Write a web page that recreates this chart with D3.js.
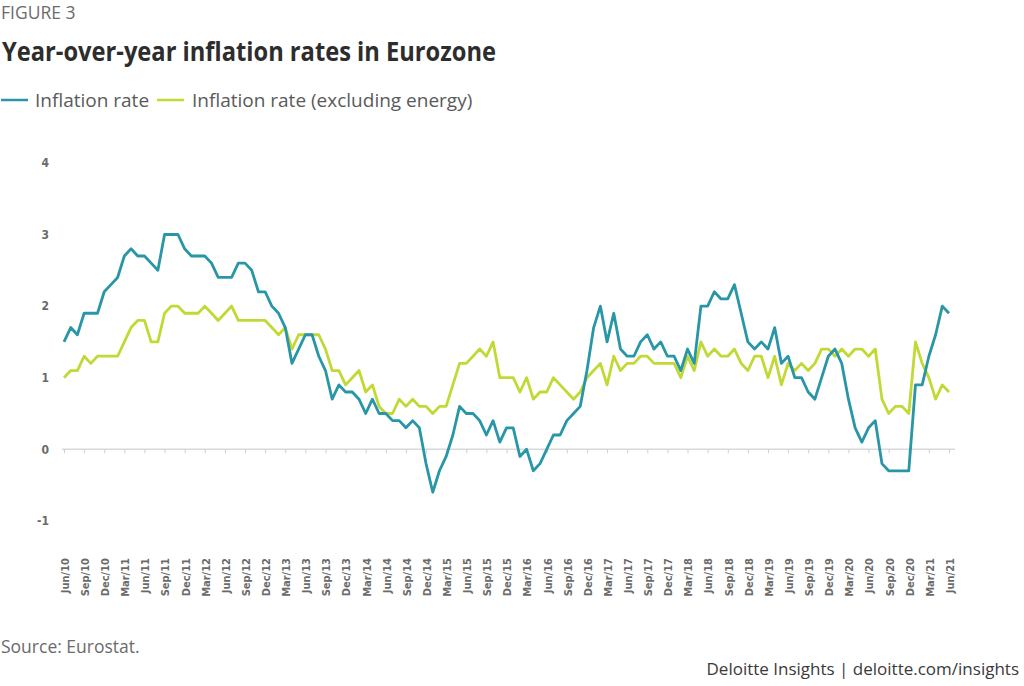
<!DOCTYPE html>
<html>
<head>
<meta charset="utf-8">
<script src="https://cdn.jsdelivr.net/npm/d3@7"></script>
<style>
  html, body { margin: 0; padding: 0; background: #fff; }
  svg { display: block; }
</style>
</head>
<body>
<svg id="chart" width="1024" height="686"></svg>
<script>
// ---- data ----
const monthNames = ["Jan","Feb","Mar","Apr","May","Jun","Jul","Aug","Sep","Oct","Nov","Dec"];
const months = [];
for (let i = 0; i < 133; i++) {
  const m = (5 + i) % 12;
  const y = 10 + Math.floor((5 + i) / 12);
  months.push(monthNames[m] + "/" + y);
}
const inflation = [
  1.5,1.7,1.6,1.9,1.9,1.9,2.2,
  2.3,2.4,2.7,2.8,2.7,2.7,2.6,2.5,3.0,3.0,3.0,2.8,
  2.7,2.7,2.7,2.6,2.4,2.4,2.4,2.6,2.6,2.5,2.2,2.2,
  2.0,1.9,1.7,1.2,1.4,1.6,1.6,1.3,1.1,0.7,0.9,0.8,
  0.8,0.7,0.5,0.7,0.5,0.5,0.4,0.4,0.3,0.4,0.3,-0.2,
  -0.6,-0.3,-0.1,0.2,0.6,0.5,0.5,0.4,0.2,0.4,0.1,0.3,
  0.3,-0.1,0.0,-0.3,-0.2,0.0,0.2,0.2,0.4,0.5,0.6,1.1,
  1.7,2.0,1.5,1.9,1.4,1.3,1.3,1.5,1.6,1.4,1.5,1.3,
  1.3,1.1,1.4,1.2,2.0,2.0,2.2,2.1,2.1,2.3,1.9,1.5,
  1.4,1.5,1.4,1.7,1.2,1.3,1.0,1.0,0.8,0.7,1.0,1.3,
  1.4,1.2,0.7,0.3,0.1,0.3,0.4,-0.2,-0.3,-0.3,-0.3,-0.3,
  0.9,0.9,1.3,1.6,2.0,1.9
];
const exEnergy = [
  1.0,1.1,1.1,1.3,1.2,1.3,1.3,
  1.3,1.3,1.5,1.7,1.8,1.8,1.5,1.5,1.9,2.0,2.0,1.9,
  1.9,1.9,2.0,1.9,1.8,1.9,2.0,1.8,1.8,1.8,1.8,1.8,
  1.7,1.6,1.7,1.4,1.6,1.6,1.6,1.6,1.4,1.1,1.1,0.9,
  1.0,1.1,0.8,0.9,0.6,0.5,0.5,0.7,0.6,0.7,0.6,0.6,
  0.5,0.6,0.6,0.9,1.2,1.2,1.3,1.4,1.3,1.5,1.0,1.0,
  1.0,0.8,1.0,0.7,0.8,0.8,1.0,0.9,0.8,0.7,0.8,1.0,
  1.1,1.2,0.9,1.3,1.1,1.2,1.2,1.3,1.3,1.2,1.2,1.2,
  1.2,1.0,1.3,1.1,1.5,1.3,1.4,1.3,1.3,1.4,1.2,1.1,
  1.3,1.3,1.0,1.3,0.9,1.2,1.1,1.2,1.1,1.2,1.4,1.4,
  1.3,1.4,1.3,1.4,1.4,1.3,1.4,0.7,0.5,0.6,0.6,0.5,
  1.5,1.2,1.0,0.7,0.9,0.8
];
const yTicks = [-1, 0, 1, 2, 3, 4];
const tickLabels = months.filter((d, i) => i % 3 === 0);
const seriesNames = ["Inflation rate", "Inflation rate (excluding energy)"];
const colors = ["#2896a6", "#c2d935"];

// ---- drawing ----
const svg = d3.select("#chart");
const x = d3.scalePoint().domain(months).range([64, 949]);
const y = d3.scaleLinear().domain([-1, 4]).range([520.9, 162.9]);

const condensed = "'Liberation Sans Narrow','DejaVu Sans Condensed','Open Sans',sans-serif";

// header
svg.append("text").attr("x", 1).attr("y", 19)
  .attr("font-family", "'Open Sans',sans-serif").attr("font-size", 17.5)
  .attr("fill", "#6b6b6b").text("FIGURE 3");
svg.append("text").attr("x", 2).attr("y", 61)
  .attr("font-family", "'Open Sans',sans-serif").attr("font-weight", 700)
  .attr("font-size", 27).attr("fill", "#2d2d2d")
  .attr("textLength", 494).attr("lengthAdjust", "spacingAndGlyphs")
  .text("Year-over-year inflation rates in Eurozone");

// legend
const legend = [
  {name: seriesNames[0], color: colors[0], x0: 1, tx: 35},
  {name: seriesNames[1], color: colors[1], x0: 157, tx: 192}
];
legend.forEach(l => {
  svg.append("line").attr("x1", l.x0).attr("x2", l.x0 + 27)
    .attr("y1", 100).attr("y2", 100)
    .attr("stroke", l.color).attr("stroke-width", 2.5);
  svg.append("text").attr("x", l.tx).attr("y", 107)
    .attr("font-family", "'Open Sans',sans-serif").attr("font-size", 19)
    .attr("fill", "#5a5a5a").text(l.name);
});

// y labels
svg.append("g").selectAll("text").data(yTicks).join("text")
  .attr("x", 49).attr("y", d => y(d)).attr("dy", "0.35em")
  .attr("text-anchor", "end")
  .attr("font-family", condensed).attr("font-weight", 700).attr("font-size", 12)
  .attr("fill", "#6a6a6a").text(d => d);

// x axis at zero
const xAxis = d3.axisBottom(x).tickValues(tickLabels).tickSize(4).tickFormat("");
const gx = svg.append("g").attr("transform", `translate(0,${y(0)})`).call(xAxis);
gx.select(".domain").attr("d", "M62,0H955").attr("stroke", "#d9d9d9").attr("stroke-width", 1.5);
gx.selectAll(".tick line").attr("stroke", "#d0d0d0");

// x labels
svg.append("g").selectAll("text").data(tickLabels).join("text")
  .attr("transform", d => `translate(${x(d) + 1},558) rotate(-90)`)
  .attr("dy", "0.35em").attr("text-anchor", "end")
  .attr("font-family", condensed).attr("font-weight", 700).attr("font-size", 11)
  .attr("fill", "#6a6a6a").text(d => d);

// lines
const line = d3.line().x((d, i) => x(months[i])).y(d => y(d));
[exEnergy, inflation].forEach((s, k) => {
  svg.append("path").datum(s).attr("d", line)
    .attr("fill", "none").attr("stroke", k === 0 ? colors[1] : colors[0])
    .attr("stroke-width", 2.8).attr("stroke-linejoin", "round");
});

// footer
svg.append("text").attr("x", 1).attr("y", 653)
  .attr("font-family", "'Open Sans',sans-serif").attr("font-size", 17.5)
  .attr("fill", "#6b6b6b").text("Source: Eurostat.");
svg.append("text").attr("x", 1019).attr("y", 675).attr("text-anchor", "end")
  .attr("font-family", "'Open Sans',sans-serif").attr("font-size", 17)
  .attr("fill", "#3a3a3a").text("Deloitte Insights | deloitte.com/insights");
</script>
</body>
</html>
